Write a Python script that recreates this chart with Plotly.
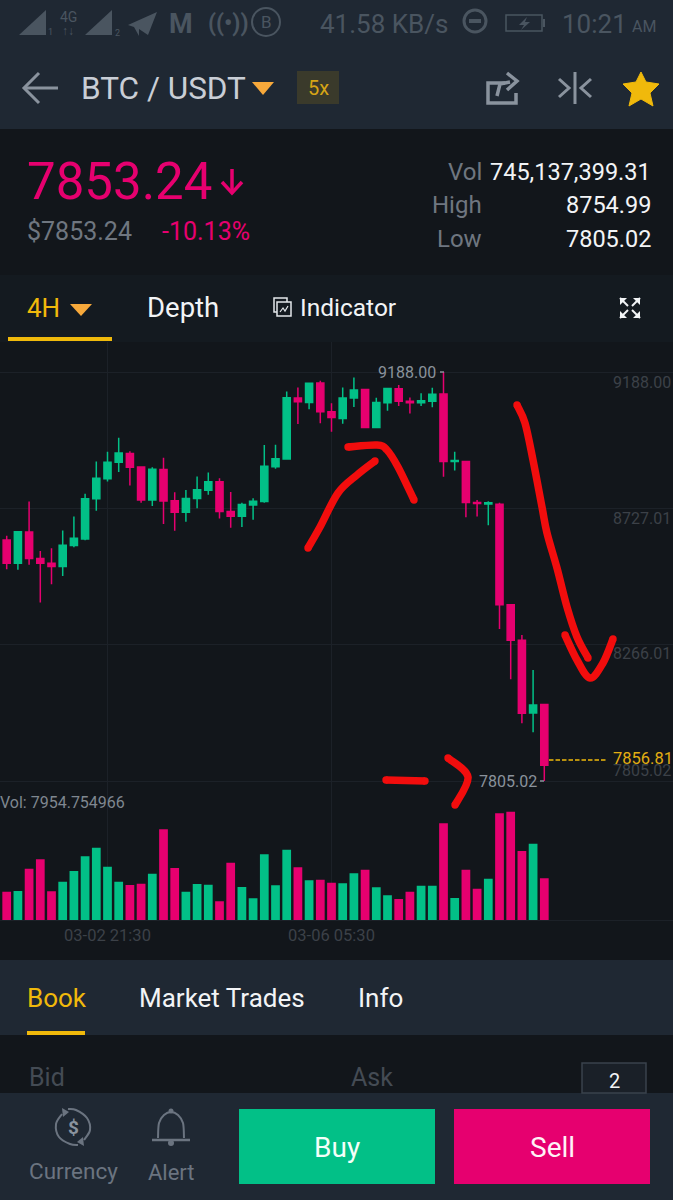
import pandas as pd
import plotly.graph_objects as go

# ---- data ----
opens = [8620,8541,8647,8557,8541,8530,8601,8623,8759,8827,8883,8912,8867,8755,8858,8753,8714,8760,8788,8817,8716,8700,8738,8750,8868,8894,9100,9085,9151,9054,9031,9100,9129,9000,9084,9131,9089,9084,9089,9114,8885,8885,8747,8742,8741,8401,8281,8035,8064]
highs = [8634,8648,8750,8583,8592,8652,8699,8776,8885,8918,8966,8920,8867,8866,8898,8781,8789,8835,8848,8829,8782,8746,8761,8941,8942,9122,9136,9150,9158,9082,9136,9169,9129,9101,9135,9144,9102,9116,9135,9188,8918,8885,8755,8751,8746,8401,8299,8180,8064]
lows = [8521,8519,8536,8409,8470,8498,8595,8619,8719,8818,8850,8804,8746,8735,8674,8651,8682,8727,8773,8693,8661,8664,8688,8746,8861,8891,9012,9062,9015,8986,9013,9070,9000,9000,9057,9073,9048,9073,9069,8834,8855,8697,8699,8670,8319,8149,8000,7970,7805]
closes = [8541,8648,8557,8541,8530,8602,8626,8759,8829,8883,8914,8866,8755,8859,8752,8714,8760,8790,8817,8716,8700,8740,8751,8869,8895,9101,9087,9150,9054,9034,9100,9127,9000,9085,9132,9089,9084,9091,9113,8885,8889,8747,8743,8746,8401,8281,8034,8062,7858]
volumes = [5427,5553,9781,11547,5490,7320,9339,12115,13756,10159,7320,6689,6941,8834,17226,9907,5427,6878,6752,3597,10916,6310,4165,12494,6626,13377,10033,7572,7698,7130,7004,8897,9591,6247,4733,4038,5427,6562,6562,18362,4228,9591,5995,7888,20255,20571,13125,14513,7955]
price_ticks = [9188.00, 8727.01, 8266.01, 7805.02]
price_labels = ["9188.00", "8727.01", "8266.01", "7805.02"]
time_ticks = ["2020-03-02 21:30", "2020-03-06 05:30"]
time_labels = ["03-02 21:30", "03-06 05:30"]

W, H = 673, 1200
GREEN, PINK = "#02c087", "#e6006f"
YELLOW, ORANGE = "#f0b90b", "#f7a93b"
DARK, PANEL = "#12161b", "#1f2833"
DIM = "#4a5560"
RED = "#f20d0d"
FONT = "Roboto"

dates = pd.date_range("2020-03-01 09:30", periods=len(opens), freq="4h")
step = pd.Timedelta(hours=4)
x0 = dates[0] - step * (6.7 / 11.2)
x1 = dates[0] + step * ((673 - 6.7) / 11.2)

def fy(py):
    return 1 - py / H

def fx(px):
    return px / W

def xpath(pts, close=False):
    s = "M " + " L ".join(f"{fx(a):.5f},{fy(b):.5f}" for a, b in pts)
    return s + (" Z" if close else "")

shapes, ann = [], []

def rect(a, b, c, d, fill, line=None, lw=0, layer="below"):
    shapes.append(dict(type="rect", xref="paper", yref="paper", x0=fx(a), x1=fx(c), y0=fy(b), y1=fy(d),
                       fillcolor=fill, line=dict(color=line or fill, width=lw), layer=layer))

def poly(pts, fill=None, color=None, lw=0, close=True):
    shapes.append(dict(type="path", xref="paper", yref="paper", path=xpath(pts, close),
                       fillcolor=fill if fill else "rgba(0,0,0,0)",
                       line=dict(color=color or "rgba(0,0,0,0)", width=lw), layer="above"))

def circle(cx, cy, r, fill=None, color=None, lw=0):
    shapes.append(dict(type="circle", xref="paper", yref="paper", x0=fx(cx - r), x1=fx(cx + r),
                       y0=fy(cy + r), y1=fy(cy - r), fillcolor=fill if fill else "rgba(0,0,0,0)",
                       line=dict(color=color or "rgba(0,0,0,0)", width=lw), layer="above"))

def T(text, x, y, size, color, anchor="left", weight=None, font=FONT):
    ann.append(dict(text=text, x=fx(x), y=fy(y), xref="paper", yref="paper", xanchor=anchor, yanchor="middle",
                    showarrow=False, font=dict(size=size, color=color, family=font, weight=weight or 400),
                    borderpad=0, borderwidth=0))

def smooth(points, color, width):
    d = f"M {fx(points[0][0]):.5f},{fy(points[0][1]):.5f}"
    n = len(points)
    for i in range(n - 1):
        p0 = points[max(i - 1, 0)]
        p1 = points[i]
        p2 = points[i + 1]
        p3 = points[min(i + 2, n - 1)]
        c1 = (p1[0] + (p2[0] - p0[0]) / 6, p1[1] + (p2[1] - p0[1]) / 6)
        c2 = (p2[0] - (p3[0] - p1[0]) / 6, p2[1] - (p3[1] - p1[1]) / 6)
        d += f" C {fx(c1[0]):.5f},{fy(c1[1]):.5f} {fx(c2[0]):.5f},{fy(c2[1]):.5f} {fx(p2[0]):.5f},{fy(p2[1]):.5f}"
    shapes.append(dict(type="path", xref="paper", yref="paper", path=d, line=dict(color=color, width=width),
                       fillcolor="rgba(0,0,0,0)", layer="above"))

def stroke(points):
    # hand-drawn marker stroke with rounded ends
    smooth(points, RED, 7.5)
    for px, py in (points[0], points[-1]):
        circle(px, py, 3.7, fill=RED)

# panels
rect(0, 0, W, 129, PANEL)
rect(0, 129, W, 275, DARK)
rect(0, 275, W, 342, "#141a20")
rect(0, 342, W, 960, DARK)
rect(0, 960, W, 1035, PANEL)
rect(0, 1035, W, 1093, DARK)
rect(0, 1093, W, 1200, PANEL)

# status bar
poly([(19, 35), (46, 10), (46, 35)], fill=DIM)
poly([(85, 35), (112, 10), (112, 35)], fill=DIM)
T("1", 51, 32, 9, DIM, "center")
T("2", 117, 33, 9, DIM, "center")
T("4G", 68, 17, 14, DIM, "center")
T("↑↓", 68, 31, 12, DIM, "center", weight=700)
poly([(128, 25), (157, 12), (148, 35), (139, 29), (139, 36), (134, 27)], fill=DIM)
T("M", 169, 24, 27, DIM, weight=700)
T("((•))", 208, 23, 23, DIM, weight=700)
circle(266, 22, 14, color=DIM, lw=2)
T("B", 266, 22, 17, DIM, "center")
T("41.58 KB/s", 320, 24, 26, DIM)
circle(475, 21, 11, color=DIM, lw=3)
rect(469, 19, 481, 23, DIM, layer="above")
rect(506, 15, 542, 31, "rgba(0,0,0,0)", line=DIM, lw=1.5, layer="above")
rect(543, 19, 545, 27, DIM, layer="above")
poly([(527, 17), (519, 25), (524, 25), (521, 30), (530, 22), (525, 22)], fill=DIM)
T("10:21", 562, 24, 26, DIM)
T("AM", 632, 27, 16, DIM)

# navigation bar
poly([(39, 73), (24, 88), (39, 103)], color="#8a939e", lw=3, close=False)
poly([(24, 88), (58, 88)], color="#8a939e", lw=3, close=False)
T("BTC / USDT", 81, 88, 31.5, "#c9ced6")
poly([(252, 82), (274, 82), (263, 95)], fill=ORANGE)
rect(297, 71, 339, 104, "#3a3a2b", layer="above")
T("5x", 318, 88, 20, "#d6a516", "center")
poly([(505, 83), (488, 83), (488, 103), (516, 103), (516, 93)], color="#8a939e", lw=3.5, close=False)
poly([(497, 96), (500, 84), (510, 82)], color="#8a939e", lw=3.5, close=False)
poly([(507, 73), (517, 81), (507, 90)], color="#8a939e", lw=3.5, close=False)
poly([(575, 72), (575, 104)], color="#8a939e", lw=3, close=False)
poly([(559, 79), (569, 88), (559, 97)], color="#8a939e", lw=3, close=False)
poly([(591, 79), (581, 88), (591, 97)], color="#8a939e", lw=3, close=False)
poly([(641, 72), (646, 82), (659, 84), (650, 93), (653, 106), (641, 99), (629, 106), (632, 93), (623, 84), (636, 82)],
     fill=YELLOW, color=YELLOW, lw=1)

# ticker
T("7853.24", 27, 181, 51, PINK)
poly([(232, 169), (232, 193)], color=PINK, lw=3.5, close=False)
poly([(222, 182), (232, 193), (242, 182)], color=PINK, lw=3.5, close=False)
T("$7853.24", 27, 231, 25, "#6f7680")
T("-10.13%", 162, 231, 25, PINK)
for lab, val, yy in (("Vol", "745,137,399.31", 172), ("High", "8754.99", 205), ("Low", "7805.02", 239)):
    T(lab, 482, yy, 24, "#6f7680", "right")
    T(val, 651, yy, 23.5, "#f2f4f6", "right")

# period tabs
T("4H", 27, 308, 26, YELLOW)
poly([(70, 304), (92, 304), (81, 316)], fill=ORANGE)
rect(8, 337, 112, 341, YELLOW)
T("Depth", 147, 308, 27.5, "#f2f4f6")
rect(274, 298, 287, 312, "rgba(0,0,0,0)", line="#e4e7ea", lw=1.5, layer="above")
rect(277, 302, 291, 316, "#141a20", line="#e4e7ea", lw=1.5, layer="above")
poly([(280, 312), (283, 308), (285, 311), (288, 306)], color="#e4e7ea", lw=1.2, close=False)
T("Indicator", 300, 308, 24.5, "#f2f4f6")
for cx, cy, sx, sy in ((620, 298, 1, 1), (640, 298, -1, 1), (620, 318, 1, -1), (640, 318, -1, -1)):
    poly([(cx, cy), (cx + 7 * sx, cy), (cx, cy + 7 * sy)], fill="#f2f4f6")
    poly([(cx, cy), (cx + 8 * sx, cy + 8 * sy)], color="#f2f4f6", lw=2, close=False)

# chart labels
T("Vol: 7954.754966", 0, 802, 16, "#7f8790")
T("9188.00", 436, 372, 16, "#8a929c", "right")
T("7805.02", 537, 782, 16, "#8a929c", "right")
poly([(440, 372), (444, 372)], color="#8a929c", lw=1.5, close=False)
poly([(540, 781), (544, 781)], color="#8a929c", lw=1.5, close=False)
shapes.append(dict(type="line", xref="paper", yref="paper", x0=fx(549), x1=fx(606), y0=fy(760), y1=fy(760),
                   line=dict(color=YELLOW, width=1.5, dash="4.5px,2px"), layer="above"))
T("7856.81", 673, 759, 16.5, "#e3ae12", "right")

# hand drawn strokes
stroke([(308, 548), (320, 527), (338, 493), (357, 475), (375, 461)])
stroke([(348, 447), (377, 445), (387, 450), (398, 467), (414, 500)])
stroke([(517, 405), (525, 423), (533, 460), (542, 507), (547, 533), (557, 568), (567, 607), (577, 637), (588, 658)])
stroke([(565, 635), (577, 660), (590, 678), (603, 663), (613, 639)])
stroke([(386, 780), (425, 781)])
stroke([(448, 758), (468, 777), (455, 805)])

# lower tabs
T("Book", 27, 998, 26, YELLOW)
rect(27, 1031, 85, 1035, YELLOW)
T("Market Trades", 139, 998, 26, "#f2f4f6")
T("Info", 358, 998, 26, "#f2f4f6")
T("Bid", 29, 1077, 25, "#444b54")
T("Ask", 351, 1077, 25, "#444b54")
rect(582, 1063, 646, 1093, "#1a2028", line="#3a424c", lw=1.5)
T("2", 614, 1081, 20, "#f2f4f6", "center")

# bottom bar
rect(239, 1109, 435, 1184, GREEN, layer="above")
rect(454, 1109, 650, 1184, PINK, layer="above")
T("Buy", 337, 1147, 28, "#f4fff9", "center")
T("Sell", 552, 1147, 28, "#fff2f7", "center")
smooth([(62, 1114), (56, 1124), (59, 1137), (70, 1144), (78, 1145)], "#6b7480", 2)
smooth([(84, 1140), (90, 1130), (87, 1118), (76, 1110), (68, 1109)], "#6b7480", 2)
poly([(62, 1108), (63, 1117), (69, 1112)], fill="#6b7480")
poly([(84, 1146), (83, 1137), (77, 1142)], fill="#6b7480")
T("$", 73, 1127, 19, "#8a939e", "center", weight=700)
T("Currency", 73, 1171, 22.5, "#6b7480", "center")
smooth([(158, 1138), (159, 1123), (164, 1115), (171, 1112), (178, 1115), (183, 1123), (184, 1138)], "#6b7480", 2)
poly([(152, 1140), (190, 1140)], color="#6b7480", lw=2.5, close=False)
circle(171, 1111, 2.5, fill="#6b7480")
circle(171, 1143, 3, fill="#6b7480")
T("Alert", 171, 1172, 22, "#6b7480", "center")

fig = go.Figure()
fig.add_trace(go.Candlestick(
    x=dates, open=opens, high=highs, low=lows, close=closes, xaxis="x", yaxis="y",
    whiskerwidth=0,
    increasing=dict(line=dict(color=GREEN, width=1.5), fillcolor=GREEN),
    decreasing=dict(line=dict(color=PINK, width=1.5), fillcolor=PINK),
))
fig.add_trace(go.Bar(
    x=dates, y=volumes, xaxis="x", yaxis="y2",
    marker=dict(color=[GREEN if c >= o else PINK for o, c in zip(opens, closes)], line=dict(width=0)),
))

# price-axis labels sit just off their gridlines
for val, lab, shift in zip(price_ticks, price_labels, (-11, -10, -9, 10)):
    ann.append(dict(text=lab, x=1, y=val, xref="paper", yref="y", xanchor="right", yanchor="middle",
                    yshift=shift, showarrow=False, font=dict(size=16, color="#3c4148", family=FONT)))

GRID = "#1c2128"
per_px = (9188.0 - 7805.02) / (781 - 372)
p_top = 9188 + (372 - 342) * per_px
p_bot = 9188 - (790 - 372) * per_px
vol_top = 7954.75 / 42 * (920.3 - 790)

fig.update_layout(
    width=W, height=H, autosize=False, margin=dict(l=0, r=0, t=0, b=0, pad=0),
    paper_bgcolor=DARK, plot_bgcolor="rgba(0,0,0,0)", showlegend=False, hovermode=False,
    bargap=0.22, boxgap=0.33, boxgroupgap=0.05,
    shapes=shapes, annotations=ann, font=dict(family=FONT),
    xaxis=dict(domain=[0, 1], range=[x0, x1], type="date", anchor="y2", rangeslider=dict(visible=False),
               tickvals=time_ticks, ticktext=time_labels, ticks="", showgrid=True, gridcolor=GRID, gridwidth=1,
               showline=True, linecolor=GRID, tickfont=dict(size=16.5, color="#3c4148", family=FONT), zeroline=False),
    yaxis=dict(domain=[fy(790), fy(342)], range=[p_bot, p_top], anchor="x", side="right",
               tickvals=price_ticks, showticklabels=False, ticks="", showgrid=True, gridcolor=GRID, zeroline=False,
               fixedrange=True),
    yaxis2=dict(domain=[fy(920.3), fy(790)], range=[0, vol_top], anchor="x", side="right",
                showticklabels=False, ticks="", showgrid=False, zeroline=False),
)
fig.write_html("out.html", config={"displayModeBar": False},
               post_script="document.body.style.margin='0';document.body.style.background='#12161b';")
